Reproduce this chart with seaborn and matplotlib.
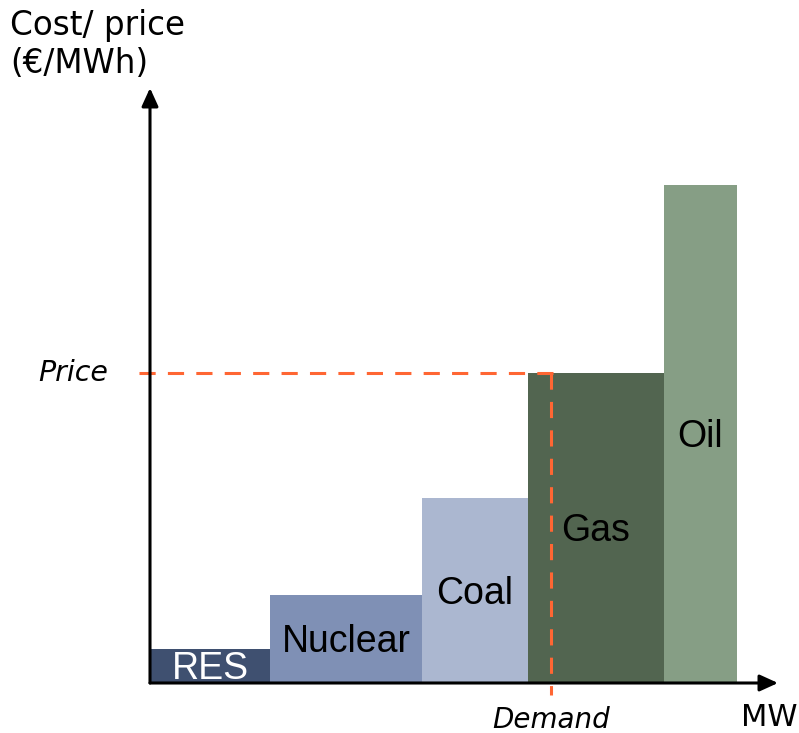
import numpy as np
import pandas as pd
import matplotlib
matplotlib.use("Agg")
import matplotlib.pyplot as plt
import matplotlib.transforms as mtransforms
import seaborn as sns

# ---- data (arbitrary units) ----
sources = ["RES", "Nuclear", "Coal", "Gas", "Oil"]
capacity = [12.0, 15.2, 10.6, 13.6, 7.3]      # MW (relative width of each block)
cost = [6.8, 17.7, 37.1, 62.2, 100.0]         # €/MWh (relative height)
colors = ["#3f5070", "#7f90b5", "#abb7d0", "#526550", "#869e85"]
label_colors = ["white", "black", "black", "black", "black"]
demand = 40.1
price = cost[3]

sns.set_theme(style="white")
plt.rcParams["font.family"] = ["DejaVu Sans"]
plt.rcParams["text.color"] = "black"

W, H = 799, 733
fig = plt.figure(figsize=(W / 100, H / 100), dpi=100)
left_px, right_px, bottom_px, top_px = 150, 778, 683, 88
ax = fig.add_axes([left_px / W, 1 - bottom_px / H,
                   (right_px - left_px) / W, (bottom_px - top_px) / H])

edges = np.concatenate([[0], np.cumsum(capacity)])
mids = (edges[:-1] + edges[1:]) / 2
df = pd.DataFrame({"source": sources, "left": edges[:-1], "width": capacity,
                   "cost": cost, "color": colors})

ax.bar(df["left"], df["cost"], width=df["width"], align="edge",
       color=df["color"], linewidth=0)

xmax = (right_px - left_px) / 10.0
ymax = (bottom_px - top_px) / 4.98
ax.set_xlim(0, xmax)
ax.set_ylim(0, ymax)
ax.set_xlabel("")
ax.set_ylabel("")
ax.set_xticks([])
ax.set_yticks([])
sns.despine(ax=ax, left=True, bottom=True)

# bar labels
shift = mtransforms.offset_copy(ax.transData, fig=fig, x=0, y=-3, units="dots")
for m, c, s, lc in zip(mids, cost, sources, label_colors):
    ax.text(m, c / 2, s, ha="center", va="center", fontsize=27,
            family="Liberation Sans", color=lc, transform=shift)

# price & demand dashed lines
orange = "#ff6633"
ax.plot([demand + 0.2, -1.9], [price, price], color=orange, lw=2.2,
        linestyle=(0, (5.3, 4.0)), clip_on=False, zorder=5)
ax.plot([demand, demand], [price, -2.4], color=orange, lw=2.2,
        linestyle=(0, (5.3, 4.0)), clip_on=False, zorder=5)

# axes arrows
arrow = dict(arrowstyle="-|>,head_length=0.55,head_width=0.25", lw=2.2,
             color="black", shrinkA=0, shrinkB=0, mutation_scale=20)
ax.annotate("", xy=(1, 0), xytext=(0, 0), xycoords="axes fraction",
            arrowprops=arrow, zorder=6)
ax.annotate("", xy=(0, 1), xytext=(0, 0), xycoords="axes fraction",
            arrowprops=arrow, zorder=6)

# texts
fig.text(10 / W, 1 - 9 / H, "Cost/ price\n(€/MWh)", ha="left", va="top",
         fontsize=23.5, linespacing=1.2, color="black")
ax.text(-4.2, price, "Price", ha="right", va="center", fontsize=20.5,
        style="italic", color="black")
ax.text(demand, -4.6, "Demand", ha="center", va="top", fontsize=20,
        style="italic", color="black")
fig.text(797 / W, 1 - 717 / H, "MW", ha="right", va="center", fontsize=22,
         color="black")

fig.savefig("out.png", dpi=100)
